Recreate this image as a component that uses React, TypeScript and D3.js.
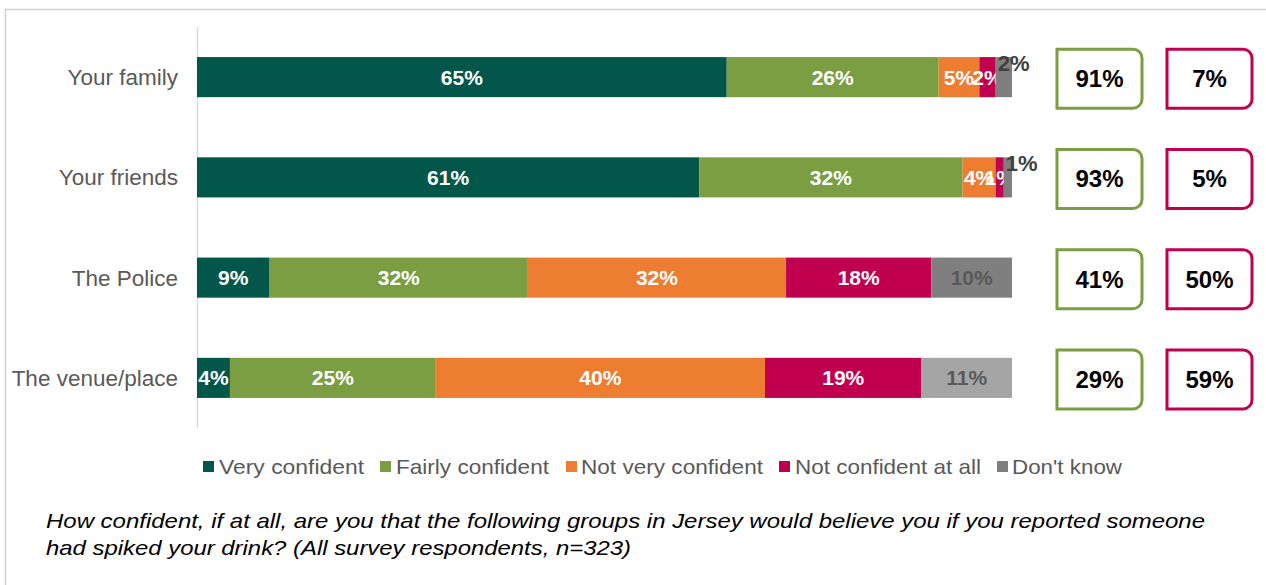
import React from "react";
import * as d3 from "d3";

const categories = ["Your family", "Your friends", "The Police", "The venue/place"];
const seriesNames = ["Very confident", "Fairly confident", "Not very confident", "Not confident at all", "Don't know"];
const veryConfident = [65, 61, 9, 4];
const fairlyConfident = [26, 32, 32, 25];
const notVeryConfident = [5, 4, 32, 40];
const notConfidentAtAll = [2, 1, 18, 19];
const dontKnow = [2, 1, 10, 11];
const confidentNet = [91, 93, 41, 29];
const notConfidentNet = [7, 5, 50, 59];

const seriesColors = ["#02574A", "#7A9E41", "#ED7D31", "#C0004E", "#7F7F7F"];
const dontKnowRowColors = ["#7F7F7F", "#7F7F7F", "#7F7F7F", "#A5A5A5"];
const greenBox = "#7A9E41";
const redBox = "#C0004E";

const W = 1266;
const H = 585;
const FONT = "Liberation Sans, Arial, sans-serif";

function boxPath(x0: number, y0: number, x1: number, y1: number, r: number) {
  const p = d3.path();
  p.moveTo(x0, y0);
  p.lineTo(x1 - r, y0);
  p.arcTo(x1, y0, x1, y0 + r, r);
  p.lineTo(x1, y1 - r);
  p.arcTo(x1, y1, x1 - r, y1, r);
  p.lineTo(x0, y1);
  p.closePath();
  return p.toString();
}

export default function App() {
  const series = [veryConfident, fairlyConfident, notVeryConfident, notConfidentAtAll, dontKnow];
  const y = d3.scaleBand<string>().domain(categories).range([27, 428]).paddingInner(0.6).paddingOuter(0.3);
  const x = d3.scaleLinear().domain([0, 1]).range([197, 1012]);

  const rows = categories.map((cat, i) => {
    const vals = series.map((s) => s[i]);
    const total = d3.sum(vals);
    let acc = 0;
    const segs = vals.map((v, j) => {
      const start = acc / total;
      acc += v;
      const end = acc / total;
      return { v, j, x0: x(start), x1: x(end) };
    });
    return { cat, i, segs };
  });

  const legendItems = [
    { sq: 203, tx: 219, w: 145 },
    { sq: 380, tx: 396, w: 153 },
    { sq: 566, tx: 581, w: 182 },
    { sq: 779, tx: 795, w: 186 },
    { sq: 997, tx: 1012, w: 110 },
  ];

  return (
    <svg width={W} height={H} style={{ position: "absolute", left: 0, top: 0, background: "#fff" }} fontFamily={FONT}>
      <line x1={5} x2={W} y1={9.5} y2={9.5} stroke="#D0D0D0" strokeWidth={1.5} />
      <line x1={5.5} x2={5.5} y1={9} y2={H} stroke="#D0D0D0" strokeWidth={1.5} />
      <line x1={197.5} x2={197.5} y1={27} y2={428} stroke="#D9D9D9" strokeWidth={1.5} />

      {rows.map((r) => {
        const y0 = y(r.cat)!;
        const bw = y.bandwidth();
        const cy = y0 + bw / 2;
        return (
          <g key={r.cat}>
            <text x={178} y={cy + 8} textAnchor="end" fontSize={22.5} fill="#595959">
              {r.cat}
            </text>
            {r.segs.map((s) => {
              const color = s.j === 4 ? dontKnowRowColors[r.i] : seriesColors[s.j];
              const w = s.x1 - s.x0;
              const isGray = s.j === 4;
              const outside = isGray && w < 20;
              const lx = outside ? s.x0 + 18 : (s.x0 + s.x1) / 2;
              const ly = outside ? cy - 6 : cy + 7.5;
              return (
                <g key={s.j}>
                  <rect x={s.x0} y={y0} width={w} height={bw} fill={color} />
                  <text
                    x={lx}
                    y={ly}
                    textAnchor="middle"
                    fontSize={outside ? 22 : 21}
                    fontWeight="bold"
                    fill={isGray ? (outside ? "#404040" : "#595959") : "#FFFFFF"}
                  >
                    {s.v}%
                  </text>
                </g>
              );
            })}
            <path d={boxPath(1057, cy - 28, 1142, cy + 31, 9)} fill="#fff" stroke={greenBox} strokeWidth={3} />
            <text x={1099.5} y={cy + 10} textAnchor="middle" fontSize={24} fontWeight="bold" fill="#000">
              {confidentNet[r.i]}%
            </text>
            <path d={boxPath(1167, cy - 28, 1252, cy + 31, 9)} fill="#fff" stroke={redBox} strokeWidth={3} />
            <text x={1209.5} y={cy + 10} textAnchor="middle" fontSize={24} fontWeight="bold" fill="#000">
              {notConfidentNet[r.i]}%
            </text>
          </g>
        );
      })}

      {seriesNames.map((name, j) => (
        <g key={name}>
          <rect x={legendItems[j].sq} y={461} width={11} height={11} fill={seriesColors[j]} />
          <text x={legendItems[j].tx} y={474} fontSize={21} fill="#595959" textLength={legendItems[j].w} lengthAdjust="spacingAndGlyphs">
            {name}
          </text>
        </g>
      ))}

      <text x={46} y={528} fontSize={21} fontStyle="italic" fill="#000" textLength={1159} lengthAdjust="spacingAndGlyphs">
        How confident, if at all, are you that the following groups in Jersey would believe you if you reported someone
      </text>
      <text x={46} y={555} fontSize={21} fontStyle="italic" fill="#000" textLength={585} lengthAdjust="spacingAndGlyphs">
        had spiked your drink? (All survey respondents, n=323)
      </text>
    </svg>
  );
}
